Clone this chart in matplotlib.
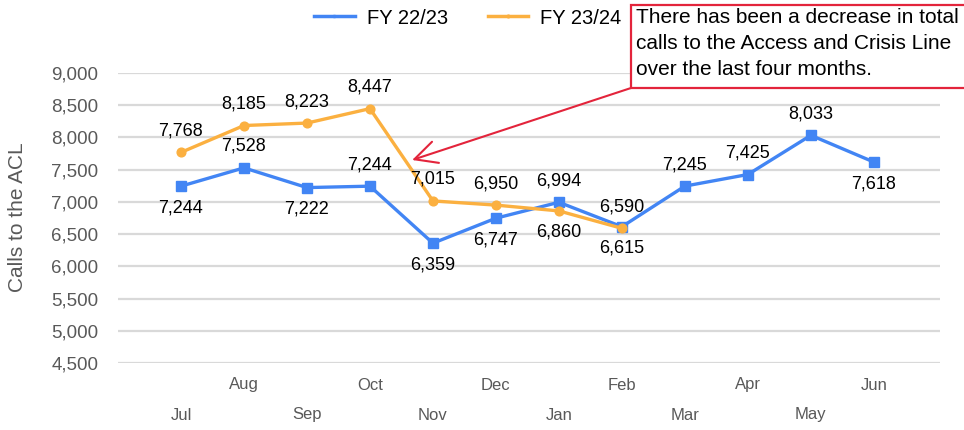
import matplotlib
matplotlib.use("Agg")
import matplotlib.pyplot as plt
from matplotlib.lines import Line2D
from matplotlib.patches import Rectangle
from matplotlib.transforms import blended_transform_factory

months = ["Jul", "Aug", "Sep", "Oct", "Nov", "Dec", "Jan", "Feb", "Mar", "Apr", "May", "Jun"]
fy2223 = [7244, 7528, 7222, 7244, 6359, 6747, 6994, 6615, 7245, 7425, 8033, 7618]
fy2324 = [7768, 8185, 8223, 8447, 7015, 6950, 6860, 6590]
# label side: +1 above point, -1 below
fy2223_side = [-1, 1, -1, 1, -1, -1, 1, -1, 1, 1, 1, -1]
fy2324_side = [1, 1, 1, 1, 1, 1, -1, 1]
yticks = list(range(4500, 9001, 500))

BLUE = "#4285F4"
ORANGE = "#FBB040"
GRID = "#D9D9D9"
TICK = "#595959"
RED = "#E3243B"

plt.rcParams["font.family"] = ["Liberation Sans", "DejaVu Sans"]

W, H = 964, 430
fig = plt.figure(figsize=(W / 100, H / 100), dpi=100)
ax = fig.add_axes([118 / W, 1 - 363 / H, (940 - 118) / W, (363 - 73) / H])

x = list(range(len(months)))
ax.plot(x, fy2223, color=BLUE, lw=2.4, marker="s", ms=7, zorder=3)
ax.plot(x[:len(fy2324)], fy2324, color=ORANGE, lw=2.4, marker="o", ms=6.3, zorder=4)

for xi, v, s in zip(x, fy2223, fy2223_side):
    ax.annotate(f"{v:,}", (xi, v), xytext=(0, 15.5 * s), textcoords="offset points",
                ha="center", va="center", fontsize=13, color="black", zorder=5)
for xi, v, s in zip(x, fy2324, fy2324_side):
    ax.annotate(f"{v:,}", (xi, v), xytext=(0, 15.5 * s), textcoords="offset points",
                ha="center", va="center", fontsize=13, color="black", zorder=5)

ax.set_xlim(-1.0, 12.05)
ax.set_ylim(4500, 9000)
ax.set_yticks(yticks)
ax.set_yticklabels([f"{t:,}" for t in yticks], fontsize=13.5, color=TICK)
ax.tick_params(axis="y", length=0, pad=14)
ax.set_xticks([])
ax.grid(axis="y", color=GRID, lw=1.6, zorder=0)
ax.set_axisbelow(True)
for sp in ax.spines.values():
    sp.set_visible(False)

# staggered month labels
trans = blended_transform_factory(ax.transData, fig.transFigure)
for i, m in enumerate(months):
    ypix = 385 if i % 2 else 415
    ax.text(i, 1 - ypix / H, m, transform=trans, ha="center", va="center",
            fontsize=12, color=TICK)

fig.text(18 / W, 1 - 217 / H, "Calls to the ACL", rotation=90, ha="center", va="center",
         fontsize=15, color=TICK)

handles = [Line2D([], [], color=BLUE, lw=2.5, marker="s", ms=2),
           Line2D([], [], color=ORANGE, lw=2.5, marker="o", ms=2)]
fig.legend(handles, ["FY 22/23", "FY 23/24"], loc="center", bbox_to_anchor=(468 / W, 1 - 18 / H),
           ncol=2, frameon=False, fontsize=14.5, handlelength=2.0, columnspacing=2.0,
           handletextpad=0.6)

# callout box, running off the right edge
fig.patches.append(Rectangle((631 / W, 1 - 88 / H), 340 / W, 83 / H, transform=fig.transFigure,
                             facecolor="white", edgecolor=RED, lw=1.6, zorder=5))
fig.text(636 / W, 1 - 8 / H,
         "There has been a decrease in total\ncalls to the Access and Crisis Line\nover the last four months.",
         ha="left", va="top", fontsize=15, linespacing=1.47, color="black", zorder=6)

ax.annotate("", xy=(3.67, 7650), xycoords="data",
            xytext=(631 / W, 1 - 88 / H), textcoords="figure fraction",
            arrowprops=dict(arrowstyle="->,head_length=1.6,head_width=0.8", color=RED, lw=1.5,
                            shrinkA=0, shrinkB=0),
            zorder=6)

fig.savefig("out.png", dpi=100)
